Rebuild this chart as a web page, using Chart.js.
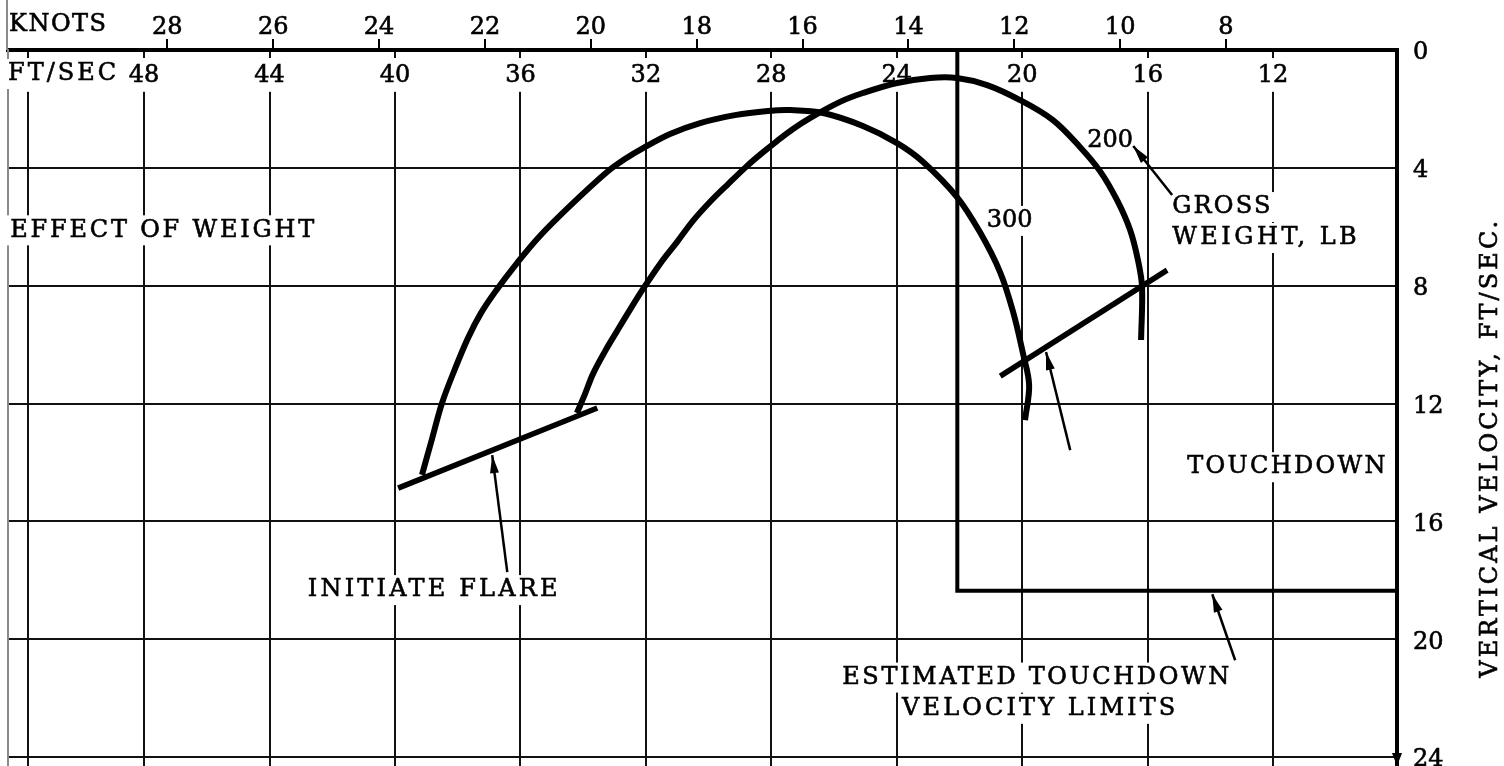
<!DOCTYPE html>
<html>
<head>
<meta charset="utf-8">
<script src="https://cdn.jsdelivr.net/npm/chart.js@4/dist/chart.umd.min.js"></script>
<style>
  html, body { margin: 0; padding: 0; background: #fff; overflow: hidden; }
  canvas { display: block; }
</style>
</head>
<body>
<canvas id="flareChart" width="1504" height="766"></canvas>
<script>
// horizontal velocity in ft/sec, vertical velocity in ft/sec (down is positive)
const FT_PER_KNOT = 1.68781;
const X_MIN = 8.05, X_MAX = 52.34;
const Y_MIN = 0, Y_MAX = 24.3;

const ftTicks = [51.7, 48, 44, 40, 36, 32, 28, 24, 20, 16, 12];
const knotTicks = [28, 26, 24, 22, 20, 18, 16, 14, 12, 10, 8];
const vvTicks = [0, 4, 8, 12, 16, 20, 24];

// gross weight 300 lb
const w300Horiz = [39.14, 38.82, 38.50, 38.09, 37.67, 37.26, 36.81, 36.11, 35.38, 34.32, 33.24, 32.67, 32.09, 31.23, 30.27, 29.16, 28.11, 27.40, 26.35, 25.08, 23.99, 23.16, 22.08, 21.35, 20.71, 20.29, 19.98, 19.78, 19.91];
const w300Vert  = [14.42, 13.20, 11.98, 10.83, 9.77, 8.93, 8.21, 7.23, 6.31, 5.19, 4.14, 3.70, 3.33, 2.85, 2.48, 2.21, 2.07, 2.04, 2.14, 2.58, 3.16, 3.80, 4.99, 6.18, 7.53, 8.89, 10.28, 11.37, 12.56];

// gross weight 200 lb
const w200Horiz = [34.20, 33.94, 33.69, 33.30, 32.92, 32.51, 32.09, 31.55, 31.01, 30.50, 29.96, 29.38, 28.78, 28.30, 27.82, 27.31, 26.77, 25.81, 25.08, 23.99, 22.94, 22.08, 21.12, 20.07, 19.02, 18.16, 17.52, 16.98, 16.56, 16.31, 16.18, 16.21];
const w200Vert  = [12.32, 11.67, 11.00, 10.22, 9.54, 8.82, 8.11, 7.26, 6.52, 5.80, 5.16, 4.55, 3.94, 3.50, 3.09, 2.68, 2.31, 1.76, 1.46, 1.12, 0.95, 0.95, 1.19, 1.70, 2.38, 3.29, 4.11, 5.09, 6.11, 7.13, 8.04, 9.84];

const flareHoriz = [39.9, 33.55];
const flareVert  = [14.87, 12.15];
const touchHoriz = [20.70, 15.38];
const touchVert  = [11.07, 7.47];
const limitHoriz = [22.07, 22.07, X_MIN];
const limitVert  = [0, 18.35, 18.35];

const toPts = (xs, ys) => xs.map((v, i) => ({x: v, y: ys[i]}));

const SERIF = '"DejaVu Serif", serif';
const FONT_SIZE = 24;
const INK = 0.6; // thin stroke to give the type some weight

// text notes, placed in data units
const notes = [
  {text: 'EFFECT OF WEIGHT', x: 52.27, y: 6.12, align: 'left', sp: 2.8},
  {text: 'INITIATE FLARE', x: 38.80, y: 18.33, align: 'center', sp: 3.2},
  {text: '300', x: 20.40, y: 5.80, align: 'center', sp: 0},
  {text: '200', x: 17.20, y: 3.08, align: 'center', sp: 0},
  {text: 'GROSS', x: 15.22, y: 5.33, align: 'left', sp: 2.2},
  {text: 'WEIGHT, LB', x: 15.22, y: 6.38, align: 'left', sp: 3.5},
  {text: 'TOUCHDOWN', x: 11.58, y: 14.16, align: 'center', sp: 2.3},
  {text: 'ESTIMATED TOUCHDOWN', x: 25.74, y: 21.30, align: 'left', sp: 2.6},
  {text: 'VELOCITY LIMITS', x: 23.83, y: 22.36, align: 'left', sp: 3.1}
];

// leader arrows: tail -> tip
const arrows = [
  {from: [36.42, 17.72], to: [36.90, 13.75]},
  {from: [18.47, 13.58], to: [19.24, 10.25]},
  {from: [15.22, 4.92], to: [16.46, 3.26]},
  {from: [13.21, 20.71], to: [13.94, 18.47]}
];

function arrowHead(ctx, x0, y0, x1, y1, len, half) {
  const a = Math.atan2(y1 - y0, x1 - x0);
  ctx.beginPath();
  ctx.moveTo(x1, y1);
  ctx.lineTo(x1 - len * Math.cos(a) + half * Math.sin(a), y1 - len * Math.sin(a) - half * Math.cos(a));
  ctx.lineTo(x1 - len * Math.cos(a) - half * Math.sin(a), y1 - len * Math.sin(a) + half * Math.cos(a));
  ctx.closePath();
  ctx.fill();
}

function inkText(ctx, text, x, y) {
  ctx.fillText(text, x, y);
  ctx.lineWidth = INK;
  ctx.strokeStyle = '#000';
  ctx.strokeText(text, x, y);
}

const notesPlugin = {
  id: 'notes',
  beforeDatasetsDraw(chart) {
    const {ctx, chartArea, scales: {x, y}} = chart;
    ctx.save();
    ctx.font = FONT_SIZE + 'px ' + SERIF;
    ctx.textBaseline = 'middle';
    ctx.textAlign = 'left';

    const put = (text, left, cy, sp, bg) => {
      ctx.letterSpacing = sp + 'px';
      const w = ctx.measureText(text).width - sp;
      if (bg) {
        ctx.fillStyle = '#fff';
        ctx.fillRect(left - 4, cy - 15, w + 8, 30);
      }
      ctx.fillStyle = '#000';
      inkText(ctx, text, left, cy);
    };

    put('KNOTS', chartArea.left + 1, chartArea.top - 25, 1.5, false);
    put('FT/SEC', chartArea.left, chartArea.top + 24, 3, true);

    notes.forEach(n => {
      const px = x.getPixelForValue(n.x);
      const py = y.getPixelForValue(n.y);
      ctx.letterSpacing = n.sp + 'px';
      const w = ctx.measureText(n.text).width - n.sp;
      const left = n.align === 'center' ? px - w / 2 : px;
      put(n.text, left, py, n.sp, true);
    });

    ctx.strokeStyle = '#000';
    ctx.fillStyle = '#000';
    arrows.forEach(a => {
      const x0 = x.getPixelForValue(a.from[0]), y0 = y.getPixelForValue(a.from[1]);
      const x1 = x.getPixelForValue(a.to[0]), y1 = y.getPixelForValue(a.to[1]);
      ctx.lineWidth = 2.5;
      ctx.beginPath();
      ctx.moveTo(x0, y0);
      ctx.lineTo(x1, y1);
      ctx.stroke();
      arrowHead(ctx, x0, y0, x1, y1, 18, 4.5);
    });
    ctx.restore();
  },
  afterDraw(chart) {
    const {ctx, chartArea, scales: {y}} = chart;
    ctx.save();
    // frame line continues above the plot on the left
    ctx.strokeStyle = '#8a8a8a';
    ctx.lineWidth = 2;
    ctx.beginPath();
    ctx.moveTo(chartArea.left - 1, 0);
    ctx.lineTo(chartArea.left - 1, chartArea.top);
    ctx.stroke();
    // arrow at the foot of the vertical axis
    ctx.fillStyle = '#000';
    arrowHead(ctx, chartArea.right, chartArea.bottom - 30, chartArea.right, chartArea.bottom, 13, 5);
    // axis title, reading bottom to top
    ctx.font = FONT_SIZE + 'px ' + SERIF;
    ctx.letterSpacing = '3.1px';
    ctx.textAlign = 'center';
    ctx.textBaseline = 'middle';
    ctx.translate(y.right - 13, y.getPixelForValue(13.5));
    ctx.rotate(-Math.PI / 2);
    inkText(ctx, 'VERTICAL VELOCITY, FT/SEC.', 0, 0);
    ctx.restore();
  }
};

// keep tick labels from pushing the plot area inwards
const noEdgePadding = s => {
  s.paddingTop = 0; s.paddingBottom = 0; s.paddingLeft = 0; s.paddingRight = 0;
};

const tickFont = {family: SERIF, size: FONT_SIZE, lineHeight: 1.2};
const tickInk = {color: '#000', font: tickFont, textStrokeColor: '#000', textStrokeWidth: INK};
const lineStyle = {showLine: true, pointRadius: 0, borderColor: '#000', fill: false, xAxisID: 'x', yAxisID: 'y'};

new Chart(document.getElementById('flareChart'), {
  type: 'scatter',
  data: {
    datasets: [
      {...lineStyle, label: '300 LB', data: toPts(w300Horiz, w300Vert), borderWidth: 6, tension: 0.35},
      {...lineStyle, label: '200 LB', data: toPts(w200Horiz, w200Vert), borderWidth: 6, tension: 0.35},
      {...lineStyle, label: 'Initiate flare', data: toPts(flareHoriz, flareVert), borderWidth: 5.5},
      {...lineStyle, label: 'Touchdown', data: toPts(touchHoriz, touchVert), borderWidth: 5.5},
      {...lineStyle, label: 'Limits', data: toPts(limitHoriz, limitVert), borderWidth: 4}
    ]
  },
  options: {
    responsive: false,
    animation: false,
    devicePixelRatio: 1,
    layout: {padding: {left: 8, top: 0, right: 0, bottom: 0}},
    plugins: {legend: {display: false}, tooltip: {enabled: false}},
    scales: {
      x: {
        type: 'linear', axis: 'x', position: 'top', reverse: true,
        min: X_MIN, max: X_MAX,
        afterBuildTicks: s => { s.ticks = ftTicks.map(v => ({value: v})); },
        afterFit: s => { s.height = 0; noEdgePadding(s); },
        grid: {color: '#111', lineWidth: 2, drawTicks: false},
        border: {display: false},
        ticks: {
          ...tickInk,
          mirror: true, padding: 11, autoSkip: false, maxRotation: 0, minRotation: 0,
          showLabelBackdrop: true, backdropColor: '#fff',
          backdropPadding: {top: 3, bottom: 2, left: 3, right: 3},
          callback: v => (v % 4 === 0 ? String(v) : '')
        }
      },
      kn: {
        type: 'linear', axis: 'x', position: 'top', reverse: true,
        min: X_MIN / FT_PER_KNOT, max: X_MAX / FT_PER_KNOT,
        afterBuildTicks: s => { s.ticks = knotTicks.map(v => ({value: v})); },
        afterFit: s => { s.height = 50; noEdgePadding(s); },
        grid: {drawOnChartArea: false, tickLength: 11, color: '#000', lineWidth: 2},
        border: {color: '#000', width: 4},
        ticks: {...tickInk, padding: -3, autoSkip: false, maxRotation: 0, minRotation: 0}
      },
      y: {
        type: 'linear', axis: 'y', position: 'right', reverse: true,
        min: Y_MIN, max: Y_MAX,
        afterBuildTicks: s => { s.ticks = vvTicks.map(v => ({value: v})); },
        afterFit: s => { s.width = 107; noEdgePadding(s); },
        grid: {color: '#111', lineWidth: 2, drawTicks: false},
        border: {color: '#000', width: 4},
        ticks: {...tickInk, padding: 16, labelOffset: 3, autoSkip: false}
      },
      yl: {
        type: 'linear', axis: 'y', position: 'left',
        min: Y_MIN, max: Y_MAX,
        afterFit: s => { s.width = 0; noEdgePadding(s); },
        grid: {display: false},
        ticks: {display: false},
        border: {color: '#8a8a8a', width: 2}
      }
    }
  },
  plugins: [notesPlugin]
});
</script>
</body>
</html>
